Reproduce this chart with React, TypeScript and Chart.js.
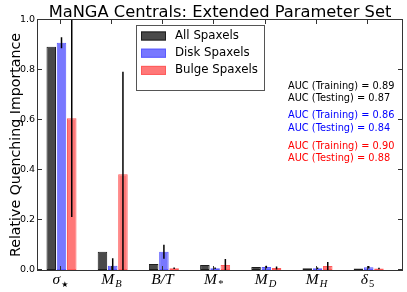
import React, { useEffect, useRef } from "react";
import { Chart, registerables } from "chart.js";

Chart.register(...registerables);

const titleText = "MaNGA Centrals: Extended Parameter Set";
const yAxisTitle = "Relative Quenching Importance";
// category labels: [main, subscript]
const categories: [string, string][] = [
  ["σ", "★"],
  ["M", "B"],
  ["B/T", ""],
  ["M", "*"],
  ["M", "D"],
  ["M", "H"],
  ["δ", "5"],
];
const seriesNames = ["All Spaxels", "Disk Spaxels", "Bulge Spaxels"];
const allValues = [0.893, 0.073, 0.024, 0.02, 0.012, 0.007, 0.006];
const allErrors = [0, 0, 0, 0, 0, 0, 0];
const diskValues = [0.909, 0.017, 0.073, 0.007, 0.012, 0.007, 0.011];
const diskErrors = [0.022, 0.03, 0.028, 0.003, 0.005, 0.003, 0.005];
const bulgeValues = [0.607, 0.383, 0.007, 0.02, 0.008, 0.016, 0.006];
const bulgeErrors = [0.395, 0.41, 0.003, 0.024, 0.006, 0.016, 0.003];
const yTicks = [0, 0.2, 0.4, 0.6, 0.8, 1.0];
const aucLines: [string, string][] = [
  ["AUC (Training) = 0.89", "#000000"],
  ["AUC (Testing) = 0.87", "#000000"],
  ["AUC (Training) = 0.86", "#0000ff"],
  ["AUC (Testing) = 0.84", "#0000ff"],
  ["AUC (Training) = 0.90", "#ff0000"],
  ["AUC (Testing) = 0.88", "#ff0000"],
];

const fills = ["#4a4a4a", "#7878ff", "#ff7878"];
const borders = ["#1e1e1e", "#5a5aff", "#ff5a5a"];
const SANS = "'DejaVu Sans', sans-serif";

const overlay = {
  id: "overlay",
  afterDatasetsDraw(chart: any) {
    const ctx = chart.ctx;
    const ys = chart.scales.y;
    const area = chart.chartArea;
    const errs = [allErrors, diskErrors, bulgeErrors];
    const vals = [allValues, diskValues, bulgeValues];
    ctx.save();
    ctx.beginPath();
    ctx.rect(area.left, area.top, area.right - area.left, area.bottom - area.top);
    ctx.clip();
    ctx.strokeStyle = "#000";
    ctx.lineWidth = 1.5;
    errs.forEach((errArr, di) => {
      const meta = chart.getDatasetMeta(di);
      errArr.forEach((e, i) => {
        if (!e) return;
        const el = meta.data[i];
        const x = el.x;
        const y1 = ys.getPixelForValue(vals[di][i] + e);
        const y2 = ys.getPixelForValue(vals[di][i] - e);
        ctx.beginPath();
        ctx.moveTo(x, y1);
        ctx.lineTo(x, y2);
        ctx.stroke();
      });
    });
    ctx.restore();
  },
  afterDraw(chart: any) {
    const ctx = chart.ctx;
    const xs = chart.scales.x;
    const ys = chart.scales.y;
    const a = chart.chartArea;
    ctx.save();
    // frame
    ctx.strokeStyle = "#333";
    ctx.lineWidth = 1;
    ctx.strokeRect(a.left - 0.5, a.top - 0.5, a.right - a.left + 1, a.bottom - a.top + 1);
    // y ticks inward
    yTicks.forEach((t) => {
      const y = Math.round(ys.getPixelForValue(t)) - 0.5;
      ctx.beginPath();
      ctx.moveTo(a.left, y);
      ctx.lineTo(a.left + 4, y);
      ctx.moveTo(a.right, y);
      ctx.lineTo(a.right - 4, y);
      ctx.stroke();
    });
    // x ticks + labels
    categories.forEach((c, i) => {
      const x = Math.round(xs.getPixelForValue(i - 0.015)) - 0.5;
      ctx.beginPath();
      ctx.moveTo(x, a.top);
      ctx.lineTo(x, a.top + 4);
      ctx.moveTo(x, a.bottom);
      ctx.lineTo(x, a.bottom - 4);
      ctx.stroke();
      const mainFont = "italic 15.5px 'Liberation Serif', serif";
      const subFont =
        c[1] === "5"
          ? "10.5px 'Liberation Serif', serif"
          : c[1] === "★"
          ? "8px 'DejaVu Sans', sans-serif"
          : "italic 10.5px 'Liberation Serif', serif";
      ctx.font = mainFont;
      const w1 = ctx.measureText(c[0]).width;
      ctx.font = subFont;
      const w2 = c[1] ? ctx.measureText(c[1]).width + 1 : 0;
      const start = x - (w1 + w2) / 2;
      const base = 283.5;
      ctx.fillStyle = "#000";
      ctx.textAlign = "left";
      ctx.textBaseline = "alphabetic";
      ctx.font = mainFont;
      ctx.fillText(c[0], start, base);
      if (c[1]) {
        ctx.font = subFont;
        ctx.fillText(c[1], start + w1 + 1, base + 3);
      }
    });
    // legend
    const lx = 136, ly = 25, lw = 128, lh = 65;
    ctx.fillStyle = "#fff";
    ctx.fillRect(lx, ly, lw, lh);
    ctx.strokeStyle = "#555";
    ctx.lineWidth = 1;
    ctx.strokeRect(lx + 0.5, ly + 0.5, lw, lh);
    seriesNames.forEach((name, i) => {
      const cy = 36 + i * 17.2;
      ctx.fillStyle = fills[i];
      ctx.fillRect(141, cy - 4.5, 25, 9);
      ctx.strokeStyle = borders[i];
      ctx.strokeRect(141.5, cy - 4, 24, 8);
      ctx.fillStyle = "#000";
      ctx.font = "11.8px " + SANS;
      ctx.textAlign = "left";
      ctx.textBaseline = "middle";
      ctx.fillText(name, 175, cy);
    });
    // AUC texts
    const aucY = [86, 98, 115.5, 128, 146, 158.5];
    aucLines.forEach((l, i) => {
      ctx.fillStyle = l[1];
      ctx.font = "9.8px " + SANS;
      ctx.textAlign = "left";
      ctx.textBaseline = "middle";
      ctx.fillText(l[0], 288, aucY[i]);
    });
    // title
    ctx.fillStyle = "#000";
    ctx.font = "16.3px " + SANS;
    ctx.textAlign = "center";
    ctx.textBaseline = "alphabetic";
    ctx.fillText(titleText, (a.left + a.right) / 2, 16.5);
    // y axis title
    ctx.save();
    ctx.translate(19.5, (a.top + a.bottom) / 2);
    ctx.rotate(-Math.PI / 2);
    ctx.font = "14.2px " + SANS;
    ctx.textAlign = "center";
    ctx.textBaseline = "alphabetic";
    ctx.fillText(yAxisTitle, 0, 0);
    ctx.restore();
    ctx.restore();
  },
};

export default function App() {
  const ref = useRef<HTMLCanvasElement | null>(null);
  useEffect(() => {
    if (!ref.current) return;
    const mk = (vals: number[]) => vals.map((v, i) => ({ x: i, y: v }));
    const chart = new Chart(ref.current, {
      type: "bar",
      data: {
        datasets: [allValues, diskValues, bulgeValues].map((vals, i) => ({
          label: seriesNames[i],
          data: mk(vals),
          backgroundColor: fills[i],
          borderColor: borders[i],
          borderWidth: 1,
          borderSkipped: false,
          categoryPercentage: 0.6,
          barPercentage: 0.93,
        })),
      },
      options: {
        responsive: false,
        animation: false,
        devicePixelRatio: 1,
        layout: { padding: { top: 20, right: 5, left: 0, bottom: 0 } },
        plugins: { legend: { display: false }, tooltip: { enabled: false }, title: { display: false } },
        scales: {
          x: {
            type: "linear",
            min: -0.459,
            max: 6.65,
            offset: false,
            grid: { display: false, drawTicks: false },
            border: { display: false },
            ticks: { display: false, stepSize: 1 },
            afterFit: (s: any) => {
              s.height = 22;
            },
          },
          y: {
            min: 0,
            max: 1,
            grid: { display: false, drawTicks: false },
            border: { display: false },
            ticks: {
              stepSize: 0.2,
              color: "#000",
              padding: 3,
              font: { family: "'DejaVu Sans', sans-serif", size: 9.5 },
              callback: (v: any) => Number(v).toFixed(1),
            },
            afterFit: (s: any) => {
              s.width = 38;
            },
          },
        },
      } as any,
      plugins: [overlay],
    });
    return () => chart.destroy();
  }, []);
  return (
    <div style={{ position: "fixed", left: 0, top: 0, width: 407, height: 292, background: "#fff" }}>
      <canvas ref={ref} width={407} height={292} style={{ width: 407, height: 292 }} />
    </div>
  );
}
